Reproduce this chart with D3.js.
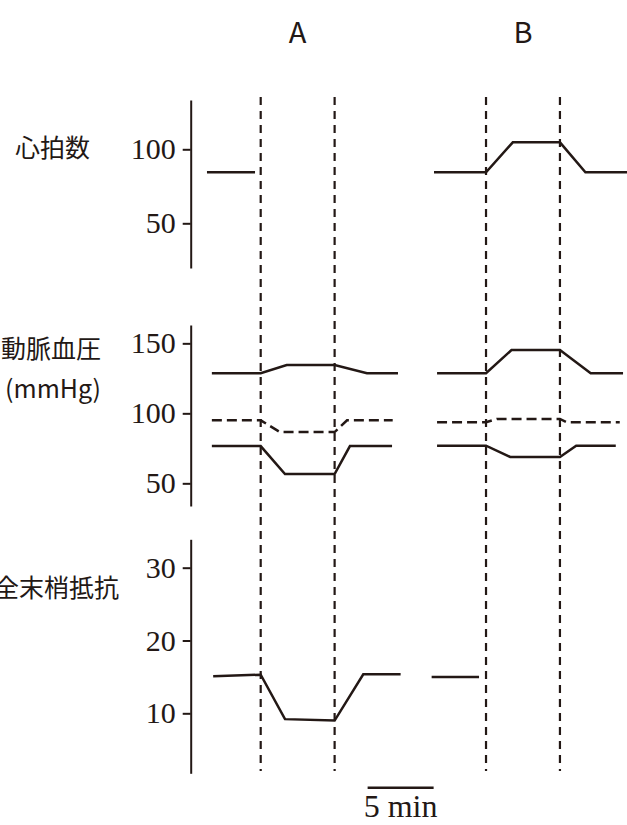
<!DOCTYPE html>
<html lang="ja">
<head>
  <meta charset="UTF-8">
  <title>chart</title>
  <style>
    body { margin: 0; background: #fff; }
  </style>
</head>
<body>

  <svg id="svg" width="627" height="825"></svg>

  <script src="https://d3js.org/d3.v7.min.js"></script>
  <script>
    // time in min, 0 = first stimulus of A
    const stimTimes = [0, 5.6, 17.07, 22.67]
    const scaleBar = [8.1, 13.1]
    const groupLabels = ['A', 'B']
    const groupCenters = [2.8, 19.87]

    // heart rate
    const hrA = [[-4.07, 84.5], [-0.43, 84.5]]
    const hrB = [[13.13, 84.5], [17.07, 84.5], [19.1, 104.7], [22.67, 104.7], [24.6, 84.5], [27.8, 84.5]]
    // arterial pressure: systolic, mean, diastolic
    const sysA = [[-3.7, 128.6], [0, 128.6], [1.97, 134.5], [5.6, 134.5], [8.05, 128.6], [10.4, 128.6]]
    const meanA = [[-3.7, 95], [0, 95], [1.46, 86.6], [5.6, 86.6], [6.54, 95], [10.0, 95]]
    const diaA = [[-3.7, 76.6], [0, 76.6], [1.84, 56.6], [5.6, 56.6], [6.76, 76.6], [9.95, 76.6]]
    const sysB = [[13.36, 128.6], [17.07, 128.6], [19.0, 145.2], [22.67, 145.2], [25.0, 128.6], [27.45, 128.6]]
    const meanB = [[13.36, 93.6], [17.07, 93.6], [17.9, 96], [22.67, 96], [23.2, 93.6], [27.2, 93.6]]
    const diaB = [[13.36, 76.9], [17.07, 76.9], [18.9, 68.8], [22.67, 68.8], [23.9, 76.9], [26.9, 76.9]]
    // total peripheral resistance
    const tprA = [[-3.6, 15.1], [0, 15.3], [1.84, 9.2], [5.6, 9.0], [7.77, 15.35], [10.6, 15.35]]
    const tprB = [[12.95, 15.0], [16.54, 15.0]]

    const hrTicks = [50, 100]
    const bpTicks = [50, 100, 150]
    const tprTicks = [10, 20, 30]

    const ink = '#231815'
    const svg = d3.select('#svg')

    const x = d3.scaleLinear()
      .domain([0, 5])
      .range([260.7, 326.7])

    const panels = [
      { ticks: hrTicks, domain: [19.8, 133.3], range: [268, 100],
        label: ['心拍数'], labelX: 15, labelAnchor: 'start', labelY: [148],
        series: [[hrA, false], [hrB, false]] },
      { ticks: bpTicks, domain: [33.8, 163.1], range: [506, 325],
        label: ['動脈血圧', '(mmHg)'], labelX: 101, labelAnchor: 'end', labelY: [349, 389],
        series: [[sysA, false], [meanA, true], [diaA, false], [sysB, false], [meanB, true], [diaB, false]] },
      { ticks: tprTicks, domain: [1.76, 33.9], range: [773.3, 539.3],
        label: ['全末梢抵抗'], labelX: 119, labelAnchor: 'end', labelY: [588],
        series: [[tprA, false], [tprB, false]] }
    ]

    // stimulus markers
    svg.selectAll('line.stim')
      .data(stimTimes)
      .enter()
      .append('line')
      .attr('class', 'stim')
      .attr('x1', d => x(d))
      .attr('x2', d => x(d))
      .attr('y1', 97)
      .attr('y2', 771)
      .attr('stroke', ink)
      .attr('stroke-width', 2.2)
      .attr('stroke-dasharray', '8,6')

    svg.selectAll('text.group')
      .data(groupLabels)
      .enter()
      .append('text')
      .attr('x', (d, i) => x(groupCenters[i]))
      .attr('y', 43)
      .attr('text-anchor', 'middle')
      .style('font-family', '"Noto Sans CJK JP", "Noto Sans", sans-serif')
      .style('font-size', '29px')
      .attr('fill', ink)
      .text(d => d)

    panels.forEach(p => {
      const y = d3.scaleLinear().domain(p.domain).range(p.range)
      const axis = d3.axisLeft(y)
        .tickValues(p.ticks)
        .tickSize(8)
        .tickSizeOuter(0)
        .tickPadding(7)
      const g = svg.append('g')
        .attr('transform', 'translate(190.7,0)')
        .call(axis)
      g.select('.domain').attr('stroke', ink).attr('stroke-width', 2)
      g.selectAll('.tick line').attr('stroke', ink).attr('stroke-width', 2)
      g.selectAll('.tick text')
        .attr('fill', ink)
        .style('font-family', '"Liberation Serif", "Times New Roman", serif')
        .style('font-size', '30px')

      const line = d3.line()
        .x(d => x(d[0]))
        .y(d => y(d[1]))

      p.series.forEach(([pts, dashed]) => {
        svg.append('path')
          .attr('d', line(pts))
          .attr('fill', 'none')
          .attr('stroke', ink)
          .attr('stroke-width', 2.5)
          .attr('stroke-linejoin', 'miter')
          .attr('stroke-dasharray', dashed ? '10,5' : null)
      })

      p.label.forEach((t, i) => {
        svg.append('text')
          .attr('x', p.labelX)
          .attr('y', p.labelY[i])
          .attr('dy', '0.35em')
          .attr('text-anchor', p.labelAnchor)
          .style('font-family', '"Noto Sans CJK JP", sans-serif')
          .style('font-size', '25px')
          .attr('fill', ink)
          .text(t)
      })
    })

    // scale bar
    svg.append('path')
      .attr('d', d3.line()(scaleBar.map(t => [x(t), 787.7])))
      .attr('stroke', ink)
      .attr('stroke-width', 2.5)
    svg.append('text')
      .attr('x', x(d3.mean(scaleBar)))
      .attr('y', 817)
      .attr('text-anchor', 'middle')
      .style('font-family', '"Liberation Serif", "Times New Roman", serif')
      .style('font-size', '32px')
      .attr('fill', ink)
      .text('5 min')
  </script>
</body>
</html>
